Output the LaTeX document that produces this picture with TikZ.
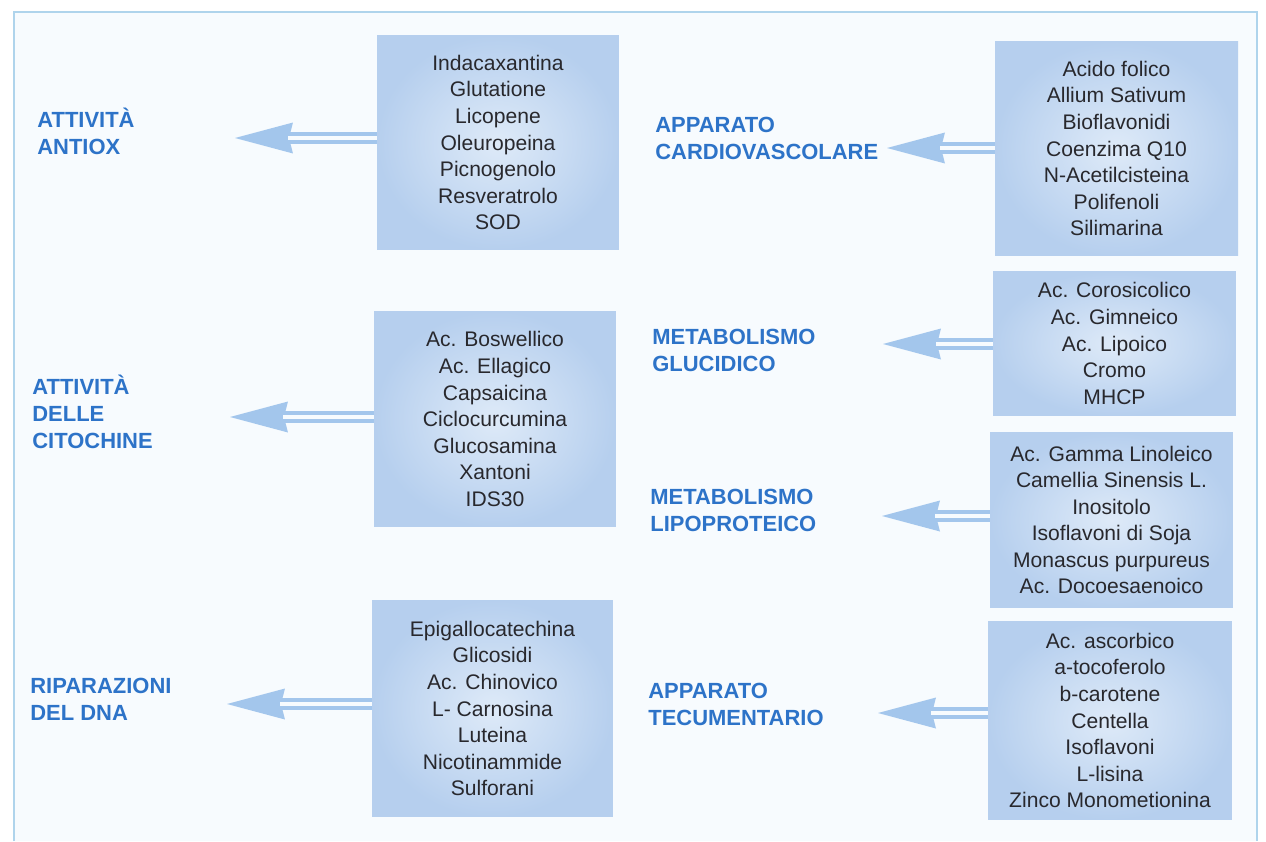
\documentclass[tikz,border=0pt]{standalone}
\usepackage{fontspec}
\setmainfont{Liberation Sans}
\usepackage{xcolor}
\usetikzlibrary{arrows.meta}
\definecolor{boxin}{RGB}{222,234,248}
\definecolor{boxout}{RGB}{182,207,238}
\definecolor{azzurro}{RGB}{163,198,236}
\definecolor{titolo}{RGB}{45,115,200}
\definecolor{testo}{RGB}{40,40,45}
\definecolor{fondo}{RGB}{247,251,254}
\definecolor{cornice}{RGB}{175,212,236}

\begin{document}
\begin{tikzpicture}[x=0.02cm,y=-0.02cm,line cap=butt,
  scatola/.style={shading=radial,inner color=boxin,outer color=boxout,align=center,text=testo,inner sep=0pt,font=\fontsize{12}{15.1}\selectfont},
  voce/.style={anchor=west,align=left,text=titolo,inner sep=0pt,font=\fontsize{12.5}{15.3}\selectfont\bfseries},
  freccia/.style={line width=0.24cm,draw=azzurro,-{Stealth[length=1.16cm,width=0.62cm,inset=0.08cm,line width=0pt,fill=azzurro]}},
  fessura/.style={line width=0.094cm,draw=fondo}]
\useasboundingbox (0,0) rectangle (1266,841);
% fondo della pagina
\fill[fondo] (14,12) rectangle (1257,841);
\draw[cornice,line width=0.6pt] (14,841) -- (14,12) -- (1257,12) -- (1257,841);
% colonna di sinistra
\node[scatola,minimum width=4.84cm,minimum height=4.30cm] (bA) at (498,142.5) {Indacaxantina\\Glutatione\\Licopene\\Oleuropeina\\Picnogenolo\\Resveratrolo\\SOD};
\node[scatola,minimum width=4.84cm,minimum height=4.32cm] (bB) at (495,419) {Ac. Boswellico\\Ac. Ellagico\\Capsaicina\\Ciclocurcumina\\Glucosamina\\Xantoni\\IDS30};
\node[scatola,minimum width=4.82cm,minimum height=4.34cm] (bC) at (492.5,708.5) {Epigallocatechina\\Glicosidi\\Ac. Chinovico\\L- Carnosina\\Luteina\\Nicotinammide\\Sulforani};
\node[voce] (lA) at (37,131) {ATTIVITÀ\\ANTIOX};
\node[voce] (lB) at (32,411.5) {ATTIVITÀ\\DELLE\\CITOCHINE};
\node[voce] (lC) at (30,699) {RIPARAZIONI\\DEL DNA};
% colonna di destra
\node[scatola,minimum width=4.86cm,minimum height=4.30cm] (bD) at (1116.5,148.5) {Acido folico\\Allium Sativum\\Bioflavonidi\\Coenzima Q10\\N-Acetilcisteina\\Polifenoli\\Silimarina};
\node[scatola,minimum width=4.86cm,minimum height=2.90cm] (bE) at (1114.5,343.5) {Ac. Corosicolico\\Ac. Gimneico\\Ac. Lipoico\\Cromo\\MHCP};
\node[scatola,minimum width=4.86cm,minimum height=3.52cm] (bF) at (1111.5,520) {Ac. Gamma Linoleico\\Camellia Sinensis L.\\Inositolo\\Isoflavoni di Soja\\Monascus purpureus\\Ac. Docoesaenoico};
\node[scatola,minimum width=4.88cm,minimum height=3.98cm] (bG) at (1110,720.5) {Ac. ascorbico\\a-tocoferolo\\b-carotene\\Centella\\Isoflavoni\\L-lisina\\Zinco Monometionina};
\node[voce] (lD) at (655,138.5) {APPARATO\\CARDIOVASCOLARE};
\node[voce] (lE) at (652,350.5) {METABOLISMO\\GLUCIDICO};
\node[voce] (lF) at (650,510) {METABOLISMO\\LIPOPROTEICO};
\node[voce] (lG) at (648,704.5) {APPARATO\\TECUMENTARIO};
% punte delle frecce
\coordinate (pA) at (235,138);
\coordinate (pB) at (230,417);
\coordinate (pC) at (227,704);
\coordinate (pD) at (887,148);
\coordinate (pE) at (883,344);
\coordinate (pF) at (882,516);
\coordinate (pG) at (878,713);
\foreach \p/\b in {pA/bA,pB/bB,pC/bC,pD/bD,pE/bE,pF/bF,pG/bG}{
  \draw[freccia] (\p -| \b.west) -- (\p);
  \draw[fessura] (\p -| \b.west) -- ([xshift=1.06cm]\p);
}
\end{tikzpicture}
\end{document}
